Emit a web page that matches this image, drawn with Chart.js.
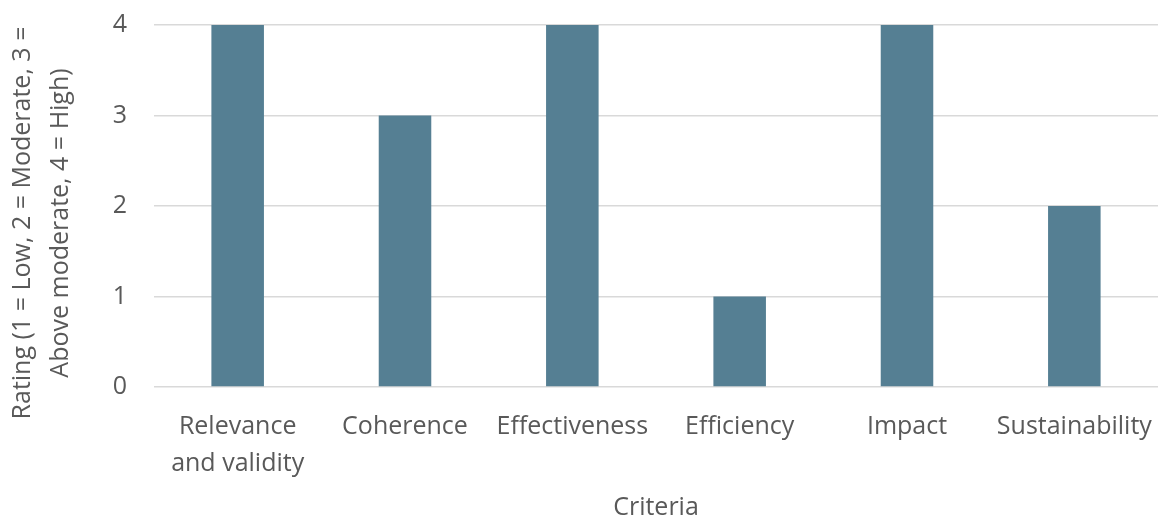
<!DOCTYPE html>
<html>
<head>
<meta charset="utf-8">
<script src="https://cdn.jsdelivr.net/npm/chart.js@4"></script>
<style>
  html, body { margin: 0; padding: 0; background: #ffffff; }
  #wrap { width: 1161px; height: 518px; }
</style>
</head>
<body>
<div id="wrap"><canvas id="chart" width="1161" height="518"></canvas></div>
<script>
// Evaluation criteria and their ratings
const criteria = [
  ['Relevance', 'and validity'],
  'Coherence',
  'Effectiveness',
  'Efficiency',
  'Impact',
  'Sustainability'
];
const ratings = [4, 3, 4, 1, 4, 2];
const yTicks = [0, 1, 2, 3, 4];
const yTitle = ['Rating (1 = Low, 2 = Moderate, 3 =', 'Above moderate, 4 = High)'];
const xTitle = 'Criteria';

const textColor = '#595959';
const fontFamily = "'Open Sans', sans-serif";
const fontSize = 25;

// Two-line rotated y-axis title, placed a little below the canvas middle
const yTitlePlugin = {
  id: 'yTitle',
  afterDraw(chart) {
    const { ctx, height } = chart;
    ctx.save();
    ctx.fillStyle = textColor;
    ctx.font = `${fontSize}px ${fontFamily}`;
    ctx.textAlign = 'center';
    ctx.textBaseline = 'middle';
    const lineXs = [23, 61];
    yTitle.forEach((line, i) => {
      ctx.save();
      ctx.translate(lineXs[i], height / 2 - 36);
      ctx.rotate(-Math.PI / 2);
      ctx.fillText(line, 0, 0);
      ctx.restore();
    });
    ctx.restore();
  }
};

new Chart(document.getElementById('chart'), {
  type: 'bar',
  data: {
    labels: criteria,
    datasets: [{
      data: ratings,
      backgroundColor: '#557f93',
      borderWidth: 0,
      categoryPercentage: 1.0,
      barPercentage: 0.314
    }]
  },
  plugins: [yTitlePlugin],
  options: {
    responsive: false,
    animation: false,
    layout: { padding: { left: 0, right: 3, top: 25, bottom: 0 } },
    plugins: {
      legend: { display: false },
      tooltip: { enabled: false }
    },
    scales: {
      x: {
        grid: { display: false, drawTicks: false },
        border: { display: false },
        afterFit(scale) {
          scale.paddingLeft = 0;
          scale.paddingRight = 0;
          scale.height = 131;
        },
        ticks: {
          color: textColor,
          font: { family: fontFamily, size: fontSize, lineHeight: 1.48 },
          padding: 21,
          maxRotation: 0,
          autoSkip: false
        },
        title: {
          display: true,
          text: xTitle,
          color: textColor,
          font: { family: fontFamily, size: fontSize, lineHeight: 0.8 },
          padding: { top: 0, bottom: 0 }
        }
      },
      y: {
        min: 0,
        max: 4,
        afterBuildTicks: (axis) => { axis.ticks = yTicks.map(v => ({ value: v })); },
        afterFit(scale) {
          scale.paddingTop = 0;
          scale.paddingBottom = 0;
          scale.width = 154;
        },
        grid: { color: '#d9d9d9', lineWidth: 1.5, drawTicks: false },
        border: { display: false },
        ticks: {
          color: textColor,
          font: { family: fontFamily, size: fontSize },
          padding: 27
        },
        title: { display: false }
      }
    }
  }
});
</script>
</body>
</html>
